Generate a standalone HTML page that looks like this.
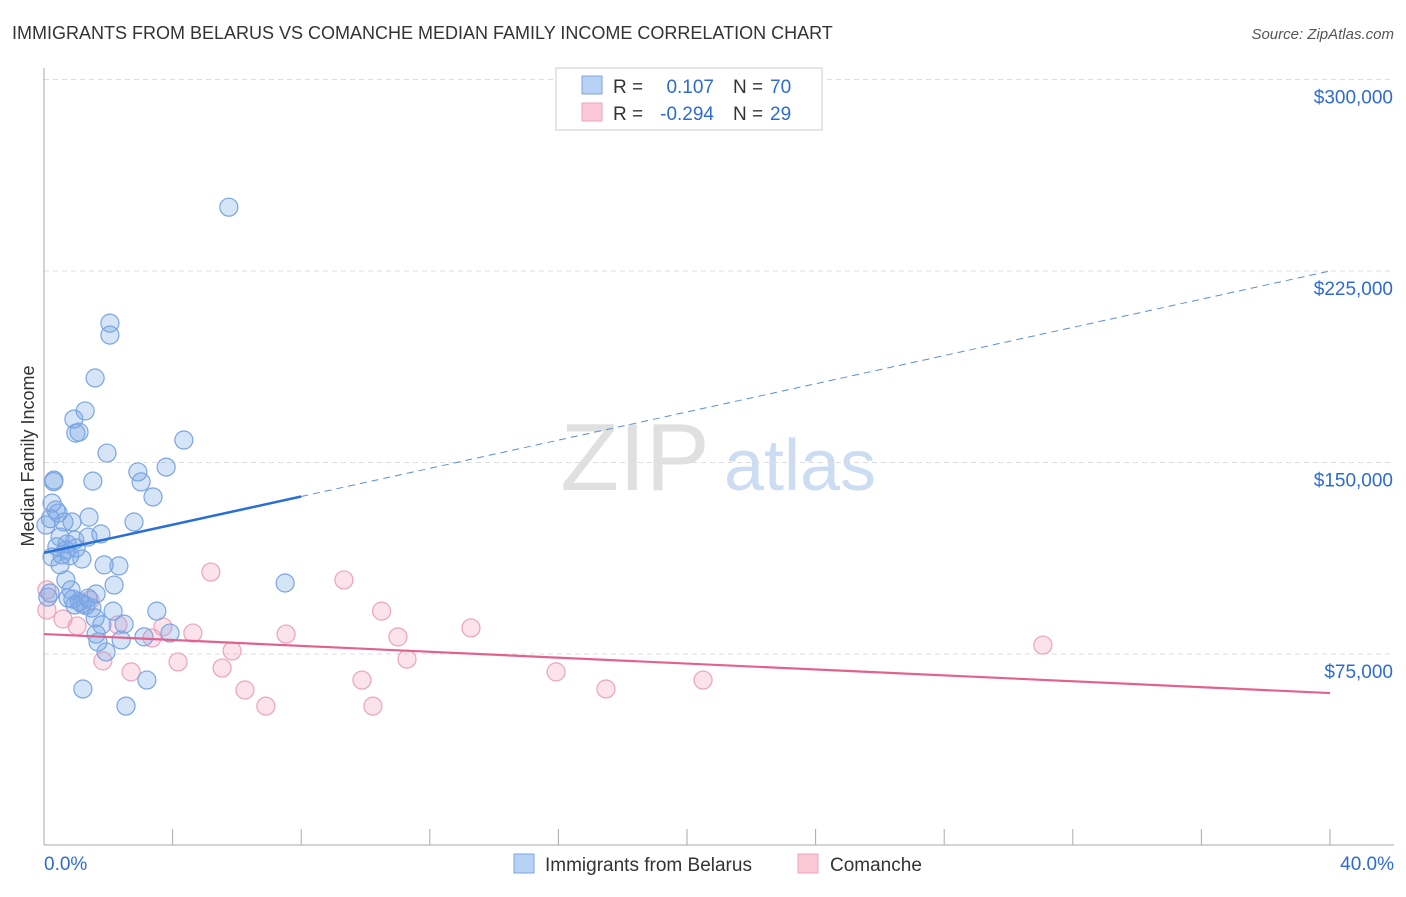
<!DOCTYPE html>
<html><head><meta charset="utf-8">
<style>
body{margin:0;background:#fff;font-family:"Liberation Sans",sans-serif;}
svg text{font-family:"Liberation Sans",sans-serif;}
</style></head>
<body>
<svg id="chart" width="1406" height="892" xmlns="http://www.w3.org/2000/svg">
<text x="12" y="39" font-size="18" fill="#333">IMMIGRANTS FROM BELARUS VS COMANCHE MEDIAN FAMILY INCOME CORRELATION CHART</text>
<text x="1394" y="39" font-size="15" fill="#555" text-anchor="end" font-style="italic">Source: ZipAtlas.com</text>
<text transform="translate(34,456) rotate(-90)" font-size="18" fill="#333" text-anchor="middle">Median Family Income</text>
<g>
<text x="635" y="490" font-size="96" fill="#d4d4d4" font-family="Liberation Serif" text-anchor="middle" opacity="0.7">ZIP</text>
<text x="800" y="490" font-size="72" fill="#b7d0ef" text-anchor="middle" opacity="0.7">atlas</text>
</g>
<g id="grid"></g>
<g id="axes"></g>
<g id="marks"></g>
<g>
<rect x="556" y="68" width="266" height="62" fill="#fff" stroke="#ccc"/>
<rect x="582" y="76" width="20" height="18" fill="#b8d2f5" stroke="#7ea6e0"/>
<rect x="582" y="103" width="20" height="18" fill="#fbc8d8" stroke="#eda4bd"/>
<text x="613" y="93" font-size="19" fill="#333">R =</text>
<text x="714" y="93" font-size="19" fill="#2e6bd0" text-anchor="end">0.107</text>
<text x="733" y="93" font-size="19" fill="#333">N =</text>
<text x="770" y="93" font-size="19" fill="#2e6bd0">70</text>
<text x="613" y="120" font-size="19" fill="#333">R =</text>
<text x="714" y="120" font-size="19" fill="#2e6bd0" text-anchor="end">-0.294</text>
<text x="733" y="120" font-size="19" fill="#333">N =</text>
<text x="770" y="120" font-size="19" fill="#2e6bd0">29</text>
</g>
<g>
<rect x="514" y="854" width="20" height="19" fill="#b8d2f5" stroke="#7ea6e0"/>
<text x="545" y="871" font-size="19" fill="#333">Immigrants from Belarus</text>
<rect x="798" y="854" width="20" height="19" fill="#fbc8d8" stroke="#eda4bd"/>
<text x="830" y="871" font-size="19" fill="#333">Comanche</text>
</g>
</svg>
<script>
const yTicks=[75000,150000,225000,300000];
const yTickLabels=["$75,000","$150,000","$225,000","$300,000"];
const xTickValues=[0,4,8,12,16,20,24,28,32,36,40];
const blueX=[5.75,2.05,2.05,1.59,1.28,0.93,1.09,0.99,4.35,1.96,3.8,2.92,3.02,0.31,1.52,3.39,0.25,0.37,0.44,1.4,0.62,0.87,2.8,1.77,1.37,0.5,0.72,0.68,0.56,0.25,1.18,1.87,2.33,0.68,7.5,2.18,0.84,1.62,0.19,0.75,1.18,1.37,0.96,2.15,3.51,1.49,1.59,1.8,2.49,3.92,1.62,3.11,2.4,1.68,1.93,3.2,1.21,2.55,0.12,0.06,0.5,0.96,0.3,1.1,0.4,0.8,1.3,0.2,0.9,1.0];
const blueY=[250000,204600,199900,183100,170200,167000,161900,161500,158800,153700,148200,146300,142400,143100,142700,136500,134100,131400,130200,128600,126700,126700,126700,122000,120800,120800,118100,115700,113800,113000,112200,109900,109500,104000,102800,102000,100100,98500,98900,96900,94600,96900,94200,91800,91800,93000,89100,86400,86700,83200,82800,81700,80500,79700,75800,64800,61300,54600,97300,125500,109900,119600,142500,95500,117000,113500,94000,128000,96500,116500];
const pinkX=[5.19,9.33,10.5,13.28,31.07,4.63,7.53,11.01,5.85,3.36,3.7,11.29,4.17,1.83,5.54,2.71,15.93,9.89,20.5,6.25,17.48,6.9,10.23,0.59,1.03,0.09,0.09,1.43,2.3];
const pinkY=[107100,104000,91800,85200,78500,83200,82800,81700,76200,81300,85600,73000,71900,72300,69500,68000,68000,64800,64800,60900,61300,54600,54600,88700,86000,92200,100100,96100,86400];
const blueTrend=[114600,225000];
const blueSolidEnd=8;
const pinkTrend=[82800,59700];

const X=p=>44+p*32.15;
const Y=v=>845.5-v/75000*191.5;
const NS="http://www.w3.org/2000/svg";
function mk(tag,attrs,parent){const e=document.createElementNS(NS,tag);for(const k in attrs)e.setAttribute(k,attrs[k]);parent.appendChild(e);return e;}
const grid=document.getElementById('grid'),axes=document.getElementById('axes'),marks=document.getElementById('marks');
yTicks.forEach((t,i)=>{
  const l=mk('line',{x1:44,x2:1394,y1:Y(t),y2:Y(t),stroke:'#ddd','stroke-dasharray':'5,4'},grid);
  
  
  const tx=mk('text',{x:1393,y:Y(t)+24,'font-size':19,fill:'#2e6bd0','text-anchor':'end'},axes);
  tx.textContent=yTickLabels[i];
  
  
});
const ax=mk('line',{x1:44,x2:1394,y1:845,y2:845,stroke:'#aaa'},axes);


const ay=mk('line',{x1:44,x2:44,y1:68,y2:845,stroke:'#aaa'},axes);


xTickValues.forEach(t=>{
  const l=mk('line',{x1:X(t),x2:X(t),y1:829,y2:845,stroke:'#aaa'},axes);
  
  
});
const xl0=mk('text',{x:44,y:870,'font-size':19,fill:'#2e6bd0'},axes);xl0.textContent='0.0%';


const xl1=mk('text',{x:1394,y:870,'font-size':19,fill:'#2e6bd0','text-anchor':'end'},axes);xl1.textContent='40.0%';


pinkX.forEach((x,i)=>{
  const c=mk('circle',{cx:X(x),cy:Y(pinkY[i]),r:9,fill:'rgba(245,160,190,0.3)',stroke:'#eba3bd','stroke-width':1.2},marks);
  
  
});
blueX.forEach((x,i)=>{
  const c=mk('circle',{cx:X(x),cy:Y(blueY[i]),r:9,fill:'rgba(120,165,230,0.3)',stroke:'#7aa5e2','stroke-width':1.2},marks);
  
  
});
const bv=p=>blueTrend[0]+(blueTrend[1]-blueTrend[0])*p/40;
const bs=mk('line',{x1:X(0),y1:Y(bv(0)),x2:X(blueSolidEnd),y2:Y(bv(blueSolidEnd)),stroke:'#2a6fd6','stroke-width':2.5},marks);


const bd=mk('line',{x1:X(blueSolidEnd),y1:Y(bv(blueSolidEnd)),x2:X(40),y2:Y(bv(40)),stroke:'#5b8fd6','stroke-width':1,'stroke-dasharray':'7,5'},marks);


const pl=mk('line',{x1:X(0),y1:Y(pinkTrend[0]),x2:X(40),y2:Y(pinkTrend[1]),stroke:'#e2628f','stroke-width':2.2},marks);


</script>
</body></html>
